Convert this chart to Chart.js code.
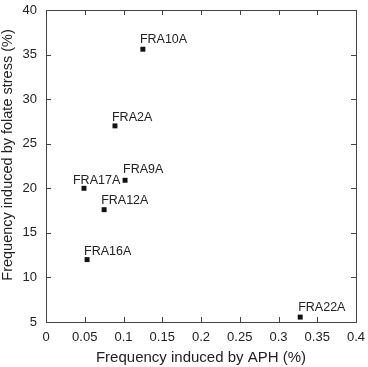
<!DOCTYPE html>
<html>
<head>
<meta charset="utf-8">
<script src="https://cdn.jsdelivr.net/npm/chart.js@4.4.1/dist/chart.umd.min.js"></script>
<style>
  html, body { margin: 0; padding: 0; background: #fff; }
  #wrap { width: 368px; height: 367px; position: relative; }
</style>
</head>
<body>
<div id="wrap"><canvas id="chart"></canvas></div>
<script>
/* ---- data ---- */
const siteNames = ["FRA10A", "FRA2A", "FRA9A", "FRA17A", "FRA12A", "FRA16A", "FRA22A"];
const aphFreq   = [0.125, 0.089, 0.102, 0.049, 0.075, 0.053, 0.328];   // x, %
const folateFreq = [35.6, 27.0, 20.9, 20.0, 17.6, 12.0, 5.55];        // y, %

const xTicks = [0, 0.05, 0.1, 0.15, 0.2, 0.25, 0.3, 0.35, 0.4];
const yTicks = [5, 10, 15, 20, 25, 30, 35, 40];

const xTitle = "Frequency induced by APH (%)";
const yTitle = "Frequency induced by folate stress (%)";

// label placement relative to the marker (text left, baseline) in px
const labelShift = {
  FRA10A: [-3, -6], FRA2A: [-3, -5], FRA9A: [-2, -7], FRA17A: [-11, -4],
  FRA12A: [-3, -6], FRA16A: [-3, -5], FRA22A: [-2, -6]
};

const FONT = "'Liberation Sans', Arial, sans-serif";
const INK = "#222";
const FRAME = "#444";

/* frame box + inward ticks on all four sides */
const framePlugin = {
  id: "frame",
  afterDatasetsDraw(chart) {
    const { ctx, chartArea: a, scales: { x, y } } = chart;
    const TL = 5;
    ctx.save();
    ctx.strokeStyle = FRAME;
    ctx.lineWidth = 1;
    ctx.strokeRect(Math.round(a.left) + 0.5, Math.round(a.top) + 0.5,
                   Math.round(a.right - a.left), Math.round(a.bottom - a.top));
    ctx.beginPath();
    xTicks.forEach(v => {
      const px = Math.round(x.getPixelForValue(v)) + 0.5;
      ctx.moveTo(px, a.bottom); ctx.lineTo(px, a.bottom - TL);
      ctx.moveTo(px, a.top);    ctx.lineTo(px, a.top + TL);
    });
    yTicks.forEach(v => {
      const py = Math.round(y.getPixelForValue(v)) + 0.5;
      ctx.moveTo(a.left, py);  ctx.lineTo(a.left + TL, py);
      ctx.moveTo(a.right, py); ctx.lineTo(a.right - TL, py);
    });
    ctx.stroke();

    // y title: sits a bit above the plot centre in the original
    ctx.font = "14.5px " + FONT;
    ctx.fillStyle = INK;
    ctx.textAlign = "center";
    ctx.textBaseline = "middle";
    ctx.translate(8, 155);
    ctx.rotate(-Math.PI / 2);
    ctx.fillText(yTitle, 0, 0);
    ctx.restore();
  }
};

/* point name labels */
const namePlugin = {
  id: "names",
  afterDatasetsDraw(chart) {
    const { ctx } = chart;
    const meta = chart.getDatasetMeta(0);
    ctx.save();
    ctx.font = "12.5px " + FONT;
    ctx.fillStyle = INK;
    ctx.textAlign = "left";
    ctx.textBaseline = "alphabetic";
    meta.data.forEach((pt, i) => {
      const name = siteNames[i];
      const [dx, dy] = labelShift[name] || [0, -6];
      ctx.fillText(name, pt.x + dx, pt.y + dy);
    });
    ctx.restore();
  }
};

new Chart(document.getElementById("chart"), {
  type: "scatter",
  data: {
    datasets: [{
      data: aphFreq.map((v, i) => ({ x: v, y: folateFreq[i] })),
      pointStyle: "rect",
      pointRadius: 3.5,
      pointHoverRadius: 3.5,
      borderWidth: 0,
      backgroundColor: "#111",
      borderColor: "#111"
    }]
  },
  options: {
    responsive: true,
    maintainAspectRatio: false,
    animation: false,
    events: [],
    layout: { padding: { left: 0, right: 12, top: 10, bottom: 0 } },
    plugins: { legend: { display: false }, tooltip: { enabled: false } },
    scales: {
      x: {
        type: "linear", min: 0, max: 0.4,
        afterBuildTicks: s => { s.ticks = xTicks.map(v => ({ value: v })); },
        afterFit: s => { s.height = 45; s.paddingLeft = 0; s.paddingRight = 0; },
        grid: { display: false, drawTicks: false },
        border: { display: false },
        ticks: { color: INK, font: { family: FONT, size: 13 }, padding: 8,
                 maxRotation: 0, autoSkip: false, callback: v => String(v) },
        title: { display: true, text: xTitle, color: INK,
                 font: { family: FONT, size: 15 }, padding: { top: 0, bottom: 0 } }
      },
      y: {
        type: "linear", min: 5, max: 40,
        afterBuildTicks: s => { s.ticks = yTicks.map(v => ({ value: v })); },
        afterFit: s => { s.width = 46; s.paddingTop = 0; s.paddingBottom = 0; },
        grid: { display: false, drawTicks: false },
        border: { display: false },
        ticks: { color: INK, font: { family: FONT, size: 13 }, padding: 9,
                 autoSkip: false, callback: v => String(v) },
        title: { display: false }
      }
    }
  },
  plugins: [framePlugin, namePlugin]
});
</script>
</body>
</html>
